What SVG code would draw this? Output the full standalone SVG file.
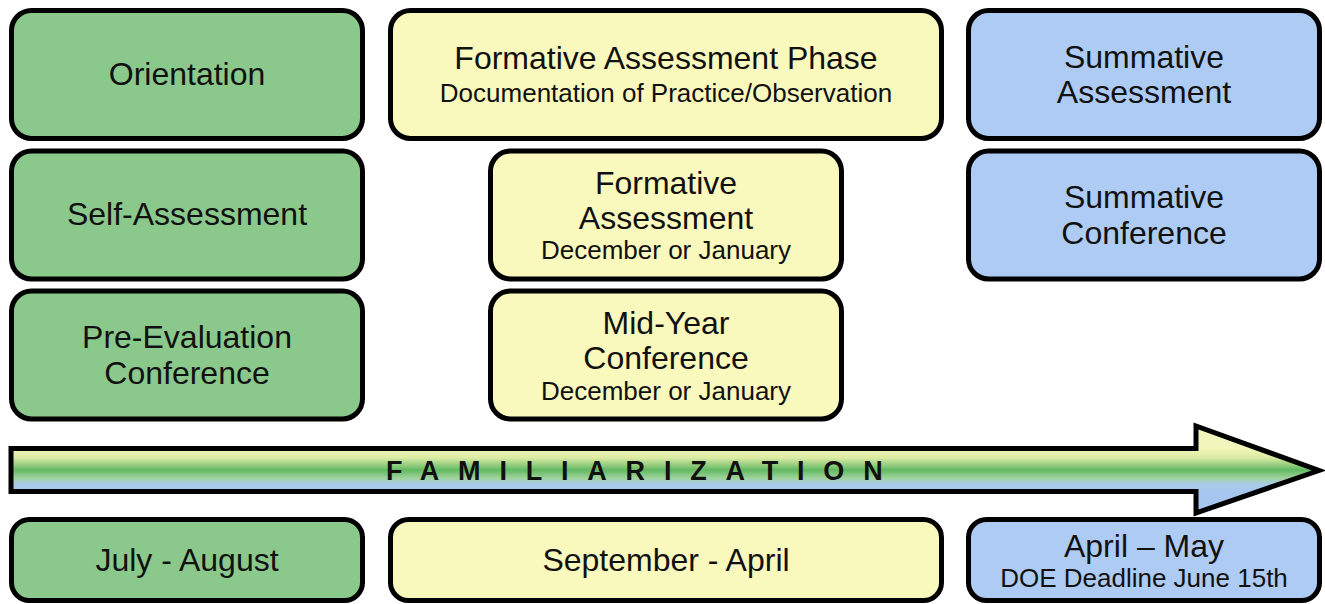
<svg xmlns="http://www.w3.org/2000/svg" width="1325" height="604" viewBox="0 0 1325 604">
<style>
.box{stroke:#000;stroke-width:5}
.g{fill:#8bc88b}
.y{fill:#f9f8bd}
.b{fill:#aecbf3}
text{font-family:"Liberation Sans",Arial,sans-serif;fill:#111;text-anchor:middle}
.t{font-size:32px}
.s{font-size:26px}
.fam{font-size:27px;font-weight:bold;text-anchor:start;letter-spacing:18.8px}
</style>
<defs>
<linearGradient id="ag" gradientUnits="userSpaceOnUse" x1="0" y1="448" x2="0" y2="492">
<stop offset="0" stop-color="#f3f6bc"/>
<stop offset="0.22" stop-color="#dcebA4"/>
<stop offset="0.5" stop-color="#62b963"/>
<stop offset="0.68" stop-color="#9fd39a"/>
<stop offset="0.82" stop-color="#a9cbe8"/>
<stop offset="1" stop-color="#a6c6f0"/>
</linearGradient>
</defs>
<rect width="1325" height="604" fill="#fff"/>
<g id="connectors">
<path id="arrow" d="M11,448.5 L1196,448.5 L1196,426 L1319,470.5 L1196,513 L1196,491.5 L11,491.5 Z" fill="url(#ag)" stroke="#000" stroke-width="5" stroke-linejoin="miter"/>
<text class="fam" x="386" y="480">FAMILIARIZATION</text>
</g>
<g id="orientation">
<rect class="box g" x="11.5" y="10.5" width="351" height="128" rx="20"/>
<text class="t" x="187" y="85">Orientation</text>
</g>
<g id="self-assessment">
<rect class="box g" x="11.5" y="151" width="351" height="128" rx="20"/>
<text class="t" x="187" y="225">Self-Assessment</text>
</g>
<g id="pre-evaluation">
<rect class="box g" x="11.5" y="291" width="351" height="128" rx="20"/>
<text class="t" x="187" y="348">Pre-Evaluation</text>
<text class="t" x="187" y="384">Conference</text>
</g>
<g id="july-august">
<rect class="box g" x="11.5" y="519.5" width="351" height="81" rx="18"/>
<text class="t" x="187" y="571">July - August</text>
</g>
<g id="formative-phase">
<rect class="box y" x="390.5" y="10.5" width="551" height="128" rx="20"/>
<text class="t" x="666" y="69">Formative Assessment Phase</text>
<text class="s" x="666" y="102">Documentation of Practice/Observation</text>
</g>
<g id="formative-assessment">
<rect class="box y" x="490.5" y="151" width="351" height="128" rx="20"/>
<text class="t" x="666" y="194">Formative</text>
<text class="t" x="666" y="229">Assessment</text>
<text class="s" x="666" y="259">December or January</text>
</g>
<g id="mid-year">
<rect class="box y" x="490.5" y="291" width="351" height="128" rx="20"/>
<text class="t" x="666" y="334">Mid-Year</text>
<text class="t" x="666" y="369">Conference</text>
<text class="s" x="666" y="400">December or January</text>
</g>
<g id="september-april">
<rect class="box y" x="390.5" y="519.5" width="551" height="81" rx="18"/>
<text class="t" x="666" y="571">September - April</text>
</g>
<g id="summative-assessment">
<rect class="box b" x="968.5" y="10.5" width="351" height="128" rx="20"/>
<text class="t" x="1144" y="68">Summative</text>
<text class="t" x="1144" y="103">Assessment</text>
</g>
<g id="summative-conference">
<rect class="box b" x="968.5" y="151" width="351" height="128" rx="20"/>
<text class="t" x="1144" y="208">Summative</text>
<text class="t" x="1144" y="244">Conference</text>
</g>
<g id="april-may">
<rect class="box b" x="968.5" y="519.5" width="351" height="81" rx="18"/>
<text class="t" x="1144" y="557">April – May</text>
<text class="s" x="1144" y="587">DOE Deadline June 15th</text>
</g>
</svg>
